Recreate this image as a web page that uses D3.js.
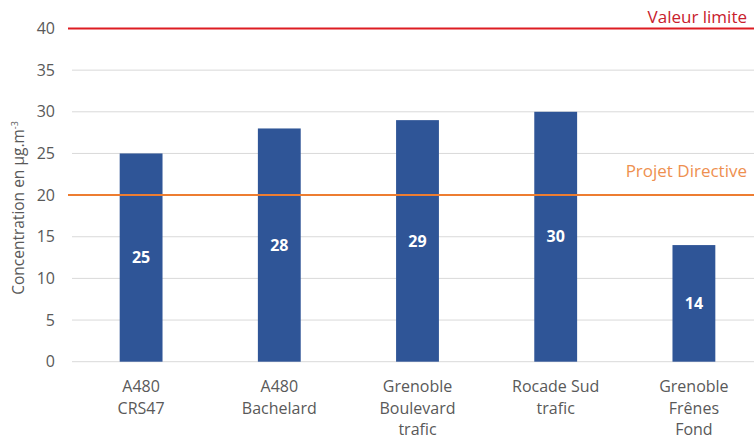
<!DOCTYPE html>
<html>
<head>
<meta charset="utf-8">
<script src="https://cdn.jsdelivr.net/npm/d3@7"></script>
<style>
  html, body { margin: 0; padding: 0; background: #fff; }
  svg { display: block; font-family: "Open Sans", "Noto Sans", sans-serif; }
</style>
</head>
<body>
<svg id="chart" width="754" height="439"></svg>
<script>
// Stations (multi-line labels) and annual mean concentrations
const categories = [
  ["A480", "CRS47"],
  ["A480", "Bachelard"],
  ["Grenoble", "Boulevard", "trafic"],
  ["Rocade Sud", "trafic"],
  ["Grenoble", "Frênes", "Fond"]
];
const values = [25, 28, 29, 30, 14];
const yTicks = [0, 5, 10, 15, 20, 25, 30, 35, 40];
const thresholds = [
  { name: "Valeur limite", value: 40 },
  { name: "Projet Directive", value: 20 }
];

const svg = d3.select("#chart");
const margin = { left: 72, right: -9, top: 28.5, bottom: 77.3 };
const W = 754, H = 439;

const x = d3.scaleBand()
  .domain(d3.range(categories.length))
  .range([margin.left, W - margin.right])
  .paddingInner(0.69)
  .paddingOuter(0.345);

const y = d3.scaleLinear()
  .domain([0, 40])
  .range([H - margin.bottom, margin.top]);

// Horizontal gridlines
svg.append("g")
  .selectAll("line")
  .data(yTicks)
  .join("line")
  .attr("x1", margin.left)
  .attr("x2", W)
  .attr("y1", d => y(d))
  .attr("y2", d => y(d))
  .attr("stroke", "#d9d9d9")
  .attr("stroke-width", 1);

// Y axis tick labels
const yAxis = d3.axisLeft(y).tickValues(yTicks).tickSize(0).tickPadding(0);
const gy = svg.append("g")
  .attr("transform", `translate(55,0)`)
  .call(yAxis);
gy.select(".domain").remove();
gy.selectAll("text")
  .attr("fill", "#595959")
  .style("font-size", "16px")
  .style("font-family", "'Open Sans', sans-serif");

// Y axis title
const title = svg.append("text")
  .attr("transform", `translate(24,${208}) rotate(-90)`)
  .attr("text-anchor", "middle")
  .attr("fill", "#595959")
  .style("font-size", "15.5px");
title.append("tspan").text("Concentration en µg.m");
title.append("tspan").attr("dy", -6).style("font-size", "9px").text("-3");

// Bars
svg.append("g")
  .selectAll("rect")
  .data(values)
  .join("rect")
  .attr("x", (d, i) => x(i))
  .attr("width", x.bandwidth())
  .attr("y", d => y(d))
  .attr("height", d => y(0) - y(d))
  .attr("fill", "#2f5597");

// Value labels inside bars
svg.append("g")
  .selectAll("text")
  .data(values)
  .join("text")
  .attr("x", (d, i) => x(i) + x.bandwidth() / 2)
  .attr("y", d => (y(d) + y(0)) / 2)
  .attr("dy", "0.35em")
  .attr("text-anchor", "middle")
  .attr("fill", "#fff")
  .style("font-weight", "bold")
  .style("font-size", "16px")
  .text(d => d3.format("d")(d));

// Category labels
const xl = svg.append("g")
  .selectAll("text")
  .data(categories)
  .join("text")
  .attr("x", (d, i) => x(i) + x.bandwidth() / 2)
  .attr("y", 392)
  .attr("text-anchor", "middle")
  .attr("fill", "#595959")
  .style("font-size", "16px");
xl.selectAll("tspan")
  .data(d => d)
  .join("tspan")
  .attr("x", function() { return this.parentNode.getAttribute("x"); })
  .attr("dy", (d, j) => j === 0 ? 0 : 21.5)
  .text(d => d);

// Threshold lines with their labels above, right-aligned
const lineColor = { "Valeur limite": "#dd1c22", "Projet Directive": "#ed7d31" };
const textColor = { "Valeur limite": "#c8202c", "Projet Directive": "#ee9050" };
const labelGap = { "Valeur limite": 6, "Projet Directive": 18 };
const th = svg.append("g");
th.selectAll("line")
  .data(thresholds)
  .join("line")
  .attr("x1", 68)
  .attr("x2", W)
  .attr("y1", d => y(d.value))
  .attr("y2", d => y(d.value))
  .attr("stroke", d => lineColor[d.name])
  .attr("stroke-width", 2);
th.selectAll("text")
  .data(thresholds)
  .join("text")
  .attr("x", 747)
  .attr("y", d => y(d.value) - labelGap[d.name])
  .attr("text-anchor", "end")
  .attr("fill", d => textColor[d.name])
  .style("font-size", "17px")
  .text(d => d.name);
</script>
</body>
</html>
